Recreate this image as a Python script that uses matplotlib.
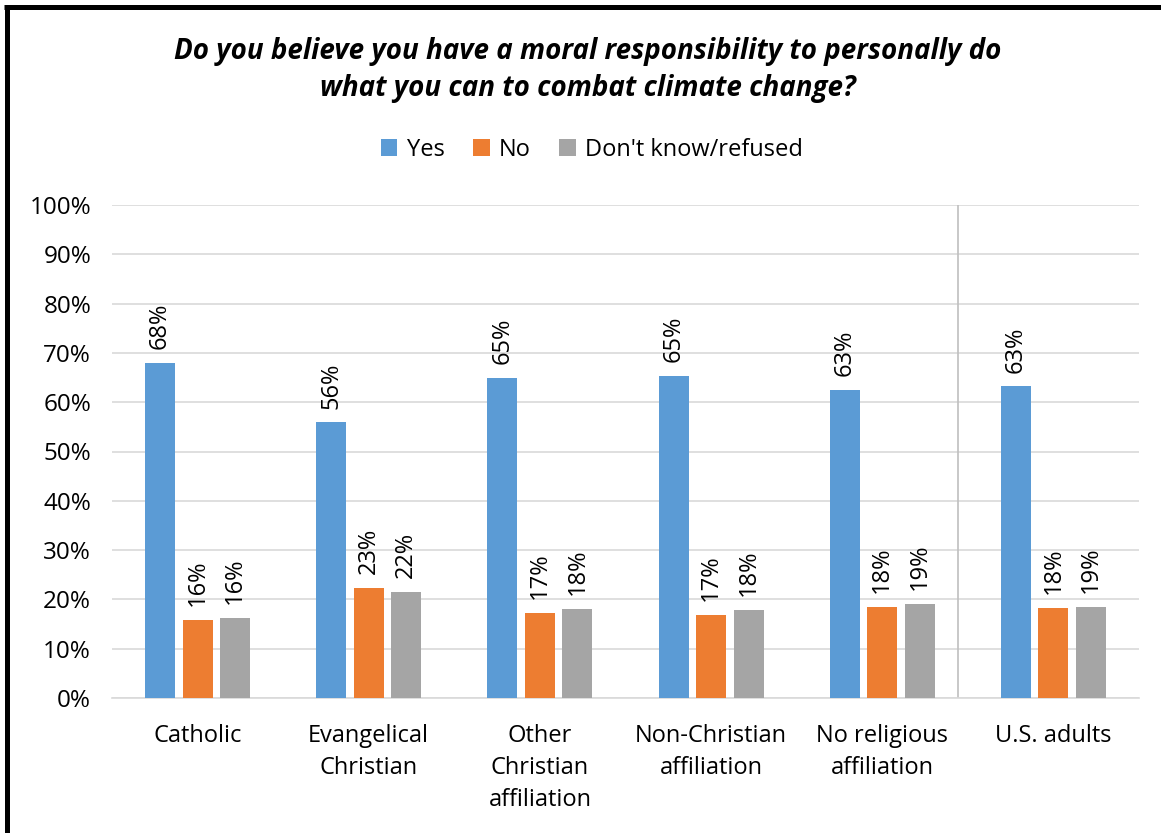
import matplotlib
matplotlib.use("Agg")
import matplotlib.pyplot as plt
from matplotlib.lines import Line2D
from matplotlib.patches import Patch
import numpy as np

categories = ["Catholic", "Evangelical\nChristian", "Other\nChristian\naffiliation",
              "Non-Christian\naffiliation", "No religious\naffiliation", "U.S. adults"]
series_names = ["Yes", "No", "Don't know/refused"]
yes_vals = [67.9, 55.9, 64.9, 65.4, 62.4, 63.2]
no_vals = [15.9, 22.3, 17.2, 16.9, 18.4, 18.2]
dk_vals = [16.2, 21.6, 18.1, 17.8, 19.1, 18.5]
yes_labels = ["68%", "56%", "65%", "65%", "63%", "63%"]
no_labels = ["16%", "23%", "17%", "17%", "18%", "18%"]
dk_labels = ["16%", "22%", "18%", "18%", "19%", "19%"]
colors = ["#5B9BD5", "#ED7D31", "#A5A5A5"]
title = "Do you believe you have a moral responsibility to personally do\nwhat you can to combat climate change?"

plt.rcParams['font.family'] = ['Open Sans', 'DejaVu Sans']

W, H = 1161, 833
fig = plt.figure(figsize=(W / 100, H / 100), dpi=100)
ax = fig.add_axes([112 / W, 1 - 698 / H, (1139 - 112) / W, (698 - 205) / H])

x = np.arange(len(categories))
bw = 0.176
step = 0.219
series = [yes_vals, no_vals, dk_vals]
labels = [yes_labels, no_labels, dk_labels]
for i, (vals, labs, c) in enumerate(zip(series, labels, colors)):
    pos = x + (i - 1) * step
    ax.bar(pos, vals, width=bw, color=c, zorder=3)
    for px, v, t in zip(pos, vals, labs):
        ax.annotate(t, (px, v), xytext=(0, 10), textcoords="offset points",
                    rotation=90, ha="center", va="bottom", fontsize=17, color="#000000")

ax.set_xlim(-0.5, len(categories) - 0.5)
ax.set_ylim(0, 100)
ax.set_yticks(np.arange(0, 101, 10))
ax.set_yticklabels([f"{v}%" for v in range(0, 101, 10)], fontsize=17.5)
ax.set_xticks(x)
ax.set_xticklabels(categories, linespacing=1.42, fontsize=17)
ax.tick_params(axis="both", length=0, colors="#000000")
ax.tick_params(axis="y", pad=15)
ax.tick_params(axis="x", pad=19)
for lab in ax.get_xticklabels():
    lab.set_verticalalignment("top")
ax.yaxis.grid(True, color="#d9d9d9", linewidth=1.2, zorder=0)
ax.set_axisbelow(True)
for s in ["top", "right", "left"]:
    ax.spines[s].set_visible(False)
ax.spines["bottom"].set_color("#d9d9d9")
ax.spines["bottom"].set_linewidth(1.2)
ax.axvline(4.44, color="#bfbfbf", linewidth=1.2, zorder=1)

fig.text(588 / W, 1 - 70 / H, title, ha="center", va="center", fontsize=20,
         fontweight="bold", fontstyle="italic", linespacing=1.36)

handles = [Patch(facecolor=c, edgecolor="none") for c in colors]
fig.legend(handles, series_names, loc="center", bbox_to_anchor=(592 / W, 1 - 150 / H),
           ncol=3, frameon=False, fontsize=17, handlelength=0.7, handleheight=0.7,
           handletextpad=0.4, columnspacing=1.2)

# border
fig.add_artist(Line2D([6.5 / W, 6.5 / W], [0, 1 - 5 / H], transform=fig.transFigure,
                      color="black", linewidth=3.6, solid_capstyle="butt"))
fig.add_artist(Line2D([4 / W, 1], [1 - 7 / H, 1 - 7 / H], transform=fig.transFigure,
                      color="black", linewidth=3.6, solid_capstyle="butt"))

fig.savefig("out.png", dpi=100)
